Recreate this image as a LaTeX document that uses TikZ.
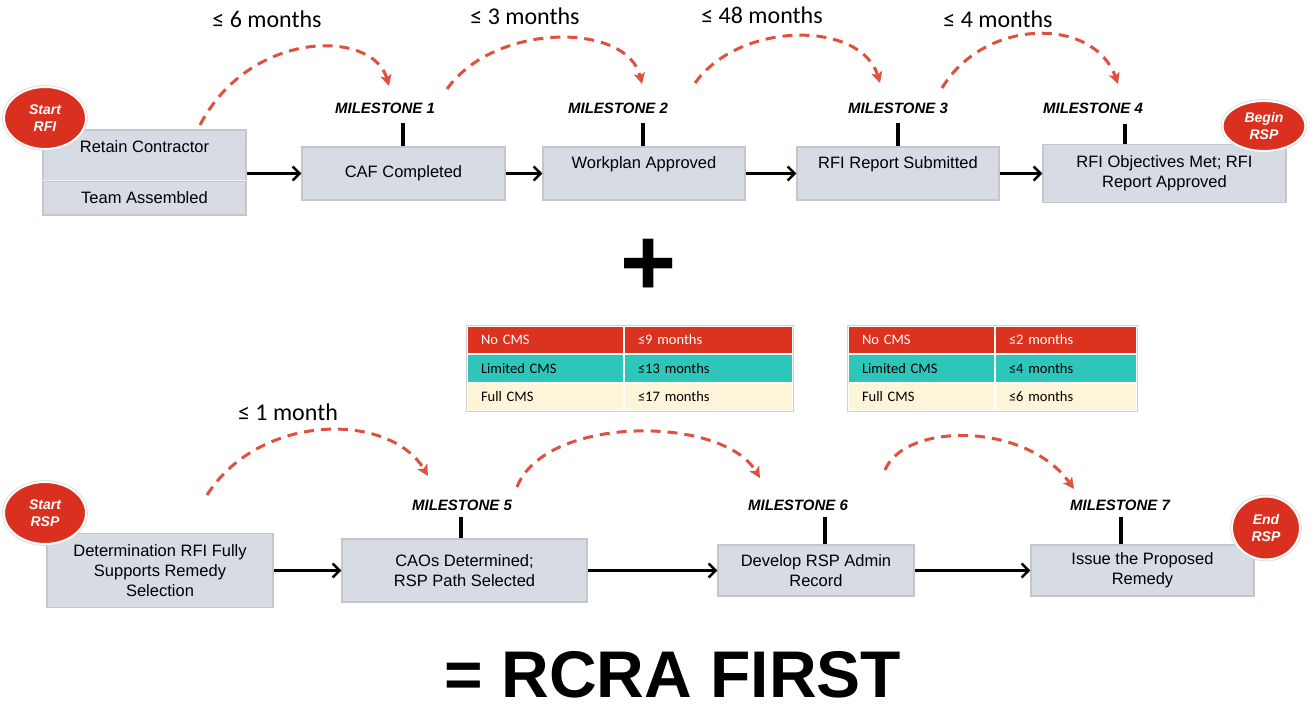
\documentclass[tikz,border=0pt]{standalone}
\usepackage{fontspec}
\setmainfont{Liberation Sans}
\newfontfamily\calib{Carlito}
\usetikzlibrary{arrows.meta,shapes.geometric}
\definecolor{boxfill}{HTML}{D7DBE3}
\definecolor{ovalred}{HTML}{DA3020}
\definecolor{arcred}{HTML}{E0503F}
\definecolor{tred}{HTML}{DC3220}
\definecolor{tteal}{HTML}{2EC6BA}
\definecolor{tcream}{HTML}{FEF4D8}
\definecolor{boxline}{HTML}{C4C6CB}
\begin{document}
\begin{tikzpicture}[x=1pt,y=-1pt,
  box/.style={draw=boxline, line width=1.2pt, fill=boxfill, inner sep=0pt, align=center, font=\fontsize{16.5}{20}\selectfont},
  btext/.style={inner sep=0pt, align=center, font=\fontsize{16.5}{20}\selectfont},
  ms/.style={inner sep=0pt, font=\fontsize{15}{18}\selectfont\bfseries\itshape},
  dur/.style={inner sep=0pt, font=\calib\fontsize{24}{28}\selectfont},
  oval/.style={ellipse, fill=ovalred, draw=white, line width=2pt, preaction={draw=black!15, line width=3.6pt}, inner sep=0pt, align=center, text=white, font=\fontsize{14}{17}\selectfont\bfseries\itshape},
  flow/.style={line width=2.5pt, -{Straight Barb[length=7pt,width=14pt]}},
  tick/.style={line width=3.4pt},
  arc/.style={draw=arcred, line width=3pt, dash pattern=on 10pt off 7pt, -{Stealth[length=11pt,width=11pt,inset=2.5pt]}},
  cell/.style={draw=white, line width=1.2pt, inner xsep=14pt, inner ysep=0pt, align=left, font=\calib\fontsize{14.5}{17}\selectfont}
]
\useasboundingbox (0,0) rectangle (1315,710);

% ---------- top row ----------
\node[box, minimum width=203pt, minimum height=51pt] (retain) at (144.5,155.5) {};
\node[btext] (retaint) at (144.5,147) {Retain Contractor};
\node[box, minimum width=203pt, minimum height=34pt] (team) at (144.5,198) {Team Assembled};
\draw[white!70!boxline, line width=1.5pt] (team.north west) -- (team.north east);
\node[box, minimum width=203pt, minimum height=53pt] (caf) at (403.5,173.5) {CAF Completed};
\node[box, minimum width=202pt, minimum height=53pt] (work) at (644,173.5) {};
\node[btext] (workt) at (644,164) {Workplan Approved};
\node[box, minimum width=202pt, minimum height=53pt] (rep) at (898,173.5) {};
\node[btext] (rept) at (898,164) {RFI Report Submitted};
\node[box, minimum width=243pt, minimum height=58pt] (obj) at (1164.5,173.5) {RFI Objectives Met; RFI\\Report Approved};

\draw[flow] (retain.east |- caf.west) -- (caf.west);
\draw[flow] (caf.east) -- (work.west);
\draw[flow] (work.east) -- (rep.west);
\draw[flow] (rep.east) -- (obj.west);

\node[ms] (ms1) at (385,108) {MILESTONE 1};
\node[ms] (ms2) at (618,108) {MILESTONE 2};
\node[ms] (ms3) at (898,108) {MILESTONE 3};
\node[ms] (ms4) at (1093,108) {MILESTONE 4};
\draw[tick] ([xshift=-0.5pt]caf.north) -- ++(0,-23);
\draw[tick] ([xshift=-1pt]work.north) -- ++(0,-23);
\draw[tick] (rep.north) -- ++(0,-23);
\draw[tick] ([xshift=-39.5pt]obj.north) -- ++(0,-20);

\node[oval, minimum width=82pt, minimum height=62pt] (startrfi) at (45,118) {Start\\RFI};
\node[oval, minimum width=83pt, minimum height=50pt] (beginrsp) at (1264,126) {Begin\\RSP};

\node[dur] (d1) at (267,19) {≤ 6 months};
\node[dur] (d2) at (525,16) {≤ 3 months};
\node[dur] (d3) at (762,15) {≤ 48 months};
\node[dur] (d4) at (998,19) {≤ 4 months};

\coordinate (a1s) at (200,125); \coordinate (a1e) at (389,86);
\coordinate (a2s) at (447,89);  \coordinate (a2e) at (642,84);
\coordinate (a3s) at (695,83);  \coordinate (a3e) at (880,83);
\coordinate (a4s) at (942,88);  \coordinate (a4e) at (1118,84);
\draw[arc] (a1s) .. controls (250,29) and (373,29) .. (a1e);
\draw[arc] (a2s) .. controls (495,22) and (627,22) .. (a2e);
\draw[arc] (a3s) .. controls (740,20.5) and (861,20.5) .. (a3e);
\draw[arc] (a4s) .. controls (985,17) and (1094,17) .. (a4e);

% ---------- plus ----------
\node[inner sep=0pt, font=\fontsize{96}{96}\selectfont\bfseries] (plus) at (649,267) {+};

% ---------- tables ----------
\node[cell, fill=tred, text=white, text width=129pt, minimum height=28pt] (t1a) at (545.5,340) {No CMS};
\node[cell, fill=tred, text=white, text width=141pt, minimum height=28pt] (t1b) at (708.5,340) {≤9 months};
\node[cell, fill=tteal, text width=129pt, minimum height=29pt] (t1c) at (545.5,368.5) {Limited CMS};
\node[cell, fill=tteal, text width=141pt, minimum height=29pt] (t1d) at (708.5,368.5) {≤13 months};
\node[cell, fill=tcream, text width=129pt, minimum height=28pt] (t1e) at (545.5,397) {Full CMS};
\node[cell, fill=tcream, text width=141pt, minimum height=28pt] (t1f) at (708.5,397) {≤17 months};
\draw[black!18, line width=0.8pt] (t1a.north west) rectangle (t1f.south east);

\node[cell, fill=tred, text=white, text width=119pt, minimum height=28pt] (t2a) at (921.5,340) {No CMS};
\node[cell, fill=tred, text=white, text width=114pt, minimum height=28pt] (t2b) at (1066,340) {≤2 months};
\node[cell, fill=tteal, text width=119pt, minimum height=29pt] (t2c) at (921.5,368.5) {Limited CMS};
\node[cell, fill=tteal, text width=114pt, minimum height=29pt] (t2d) at (1066,368.5) {≤4 months};
\node[cell, fill=tcream, text width=119pt, minimum height=28pt] (t2e) at (921.5,397) {Full CMS};
\node[cell, fill=tcream, text width=114pt, minimum height=28pt] (t2f) at (1066,397) {≤6 months};
\draw[black!18, line width=0.8pt] (t2a.north west) rectangle (t2f.south east);

% ---------- bottom row ----------
\node[box, minimum width=226pt, minimum height=74pt] (det) at (160,570.5) {Determination RFI Fully\\Supports Remedy\\Selection};
\node[box, minimum width=245pt, minimum height=63pt] (cao) at (464.5,570.5) {CAOs Determined;\\RSP Path Selected};
\node[box, minimum width=196pt, minimum height=51pt] (dev) at (816,570.5) {Develop RSP Admin\\Record};
\node[box, minimum width=223pt, minimum height=51pt] (iss) at (1142.5,570.5) {Issue the Proposed\\Remedy};

\draw[flow] (det.east) -- (cao.west);
\draw[flow] (cao.east) -- (dev.west);
\draw[flow] (dev.east) -- (iss.west);

\node[ms] (ms5) at (462,505) {MILESTONE 5};
\node[ms] (ms6) at (798,505) {MILESTONE 6};
\node[ms] (ms7) at (1120,505) {MILESTONE 7};
\draw[tick] ([xshift=-3.5pt]cao.north) -- ++(0,-21);
\draw[tick] ([xshift=9pt]dev.north) -- ++(0,-27);
\draw[tick] ([xshift=-21.5pt]iss.north) -- ++(0,-27);

\node[oval, minimum width=82pt, minimum height=62pt] (startrsp) at (45,513) {Start\\RSP};
\node[oval, minimum width=68pt, minimum height=63pt] (endrsp) at (1266,528) {End\\RSP};

\node[dur] (d5) at (288,412) {≤ 1 month};

\coordinate (a5s) at (207,495);  \coordinate (a5e) at (428,476);
\coordinate (a6s) at (517,487);  \coordinate (a6e) at (760,478);
\coordinate (a7s) at (885,470);  \coordinate (a7e) at (1074,489);
\draw[arc] (a5s) .. controls (260,412) and (390,412) .. (a5e);
\draw[arc] (a6s) .. controls (545,415) and (722,415) .. (a6e);
\draw[arc] (a7s) .. controls (905,422) and (1026,422) .. (a7e);

% ---------- result ----------
\node[inner sep=0pt, font=\fontsize{66}{70}\selectfont\bfseries] (result) at (673,675) {= RCRA FIRST};
\end{tikzpicture}
\end{document}
